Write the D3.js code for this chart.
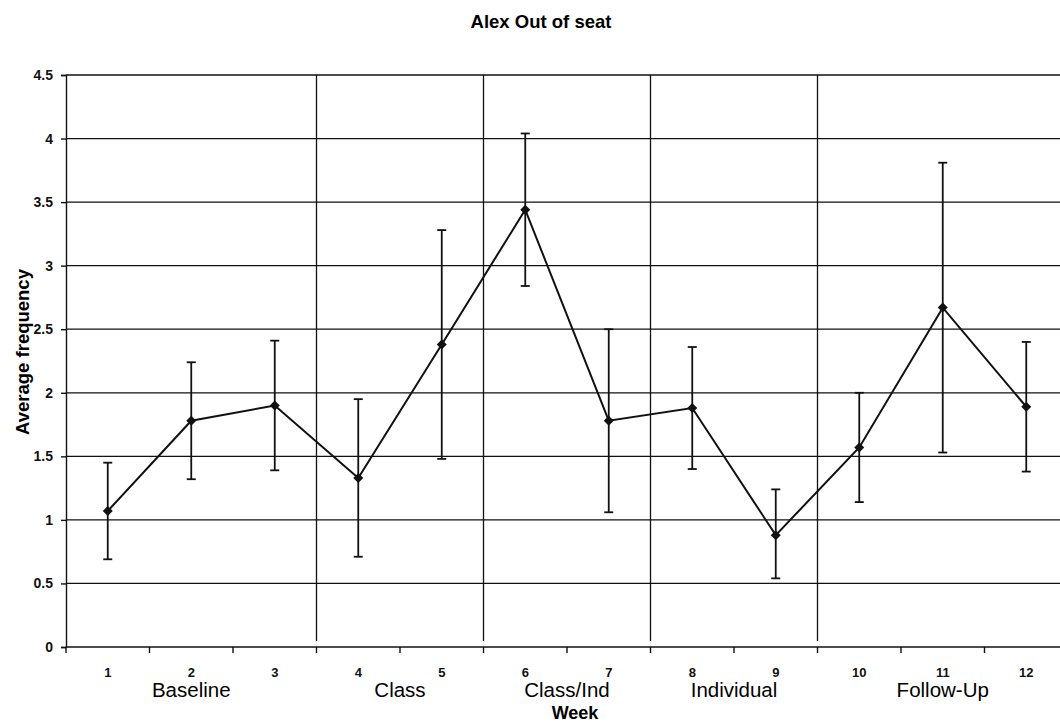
<!DOCTYPE html>
<html lang="en">
<head>
<meta charset="utf-8">
<title>Alex Out of seat</title>
<script src="https://cdn.jsdelivr.net/npm/d3@7"></script>
<style>
  body { margin: 0; background: #fff; }
  svg { display: block; font-family: "Liberation Sans", Arial, sans-serif; }
  .grid line { stroke: #111; stroke-width: 1.3; }
  .axis path, .axis line { stroke: #111; stroke-width: 1.4; }
  .axis text { fill: #111; font-weight: bold; }
</style>
</head>
<body>
<svg width="1060" height="725"></svg>
<script>
// data
var weeks = [1, 2, 3, 4, 5, 6, 7, 8, 9, 10, 11, 12];
var means = [1.07, 1.78, 1.90, 1.33, 2.38, 3.44, 1.78, 1.88, 0.88, 1.57, 2.67, 1.89];
var lower = [0.69, 1.32, 1.39, 0.71, 1.48, 2.84, 1.06, 1.40, 0.54, 1.14, 1.53, 1.38];
var upper = [1.45, 2.24, 2.41, 1.95, 3.28, 4.04, 2.50, 2.36, 1.24, 2.00, 3.81, 2.40];
var phases = ["Baseline", "Class", "Class/Ind", "Individual", "Follow-Up"];
var phaseFirst = [1, 4, 6, 8, 10];
var phaseLast = [3, 5, 7, 9, 12];
var yTicks = [0, 0.5, 1, 1.5, 2, 2.5, 3, 3.5, 4, 4.5];

var svg = d3.select("svg");
var plotLeft = 66, plotTop = 75, plotRight = 1068, plotBottom = 647;

var x = d3.scaleBand().domain(weeks).range([plotLeft, plotRight]).padding(0);
var y = d3.scaleLinear().domain([0, 4.5]).range([plotBottom, plotTop]);
var cx = function(w) { return x(w) + x.bandwidth() / 2; };

// title
svg.append("text")
   .attr("x", 541).attr("y", 28)
   .attr("text-anchor", "middle")
   .attr("font-size", "18.5px").attr("font-weight", "bold")
   .text("Alex Out of seat");

// horizontal gridlines
svg.append("g").attr("class", "grid")
   .selectAll("line").data(yTicks.slice(1)).enter().append("line")
   .attr("x1", plotLeft).attr("x2", plotRight)
   .attr("y1", function(d) { return y(d); })
   .attr("y2", function(d) { return y(d); });

// phase change lines
svg.append("g").attr("class", "grid")
   .selectAll("line").data(phaseLast.slice(0, -1)).enter().append("line")
   .attr("x1", function(d) { return x(d) + x.bandwidth(); })
   .attr("x2", function(d) { return x(d) + x.bandwidth(); })
   .attr("y1", y(4.5)).attr("y2", plotBottom - 6)
   .attr("stroke-width", 1.7);

// y axis
var yAxis = svg.append("g").attr("class", "axis")
   .attr("transform", "translate(" + plotLeft + ",0)")
   .call(d3.axisLeft(y).tickValues(yTicks).tickSize(5).tickPadding(8).tickFormat(d3.format("")));
yAxis.selectAll("text").attr("font-size", "14px");

// x axis: ticks at category boundaries, labels at centres
var xAxis = svg.append("g").attr("class", "axis")
   .attr("transform", "translate(0," + plotBottom + ")");
xAxis.append("line")
   .attr("x1", plotLeft).attr("x2", plotRight).attr("y1", 0).attr("y2", 0);
xAxis.selectAll(".tk").data(weeks).enter().append("line")
   .attr("class", "tk")
   .attr("x1", function(d) { return x(d); }).attr("x2", function(d) { return x(d); })
   .attr("y1", 0).attr("y2", 6);
xAxis.selectAll(".lb").data(weeks).enter().append("text")
   .attr("class", "lb")
   .attr("x", function(d) { return cx(d); })
   .attr("y", 30)
   .attr("text-anchor", "middle")
   .attr("font-size", "13px")
   .text(function(d) { return d; });

// phase names
svg.selectAll(".phase").data(phases).enter().append("text")
   .attr("class", "phase")
   .attr("x", function(d, i) { return (cx(phaseFirst[i]) + cx(phaseLast[i])) / 2; })
   .attr("y", 697)
   .attr("text-anchor", "middle")
   .attr("font-size", "20.5px")
   .text(function(d) { return d; });

// axis titles
svg.append("text")
   .attr("x", 575).attr("y", 719)
   .attr("text-anchor", "middle")
   .attr("font-size", "18px").attr("font-weight", "bold")
   .text("Week");

svg.append("text")
   .attr("transform", "translate(29,352) rotate(-90)")
   .attr("text-anchor", "middle")
   .attr("font-size", "18.5px").attr("font-weight", "bold")
   .text("Average frequency");

// error bars
var eb = svg.append("g").attr("stroke", "#111").attr("stroke-width", 1.8);
eb.selectAll(".stem").data(weeks).enter().append("line")
   .attr("x1", function(d) { return cx(d); }).attr("x2", function(d) { return cx(d); })
   .attr("y1", function(d, i) { return y(lower[i]); })
   .attr("y2", function(d, i) { return y(upper[i]); });
[lower, upper].forEach(function(arr) {
  eb.append("g").selectAll("line").data(weeks).enter().append("line")
     .attr("x1", function(d) { return cx(d) - 4.5; }).attr("x2", function(d) { return cx(d) + 4.5; })
     .attr("y1", function(d, i) { return y(arr[i]); })
     .attr("y2", function(d, i) { return y(arr[i]); });
});

// mean line
var line = d3.line()
   .x(function(d) { return cx(d); })
   .y(function(d, i) { return y(means[i]); });
svg.append("path")
   .datum(weeks)
   .attr("fill", "none").attr("stroke", "#111").attr("stroke-width", 2)
   .attr("d", line);

// diamond markers
svg.selectAll(".pt").data(weeks).enter().append("path")
   .attr("class", "pt")
   .attr("d", d3.symbol().type(d3.symbolDiamond2).size(64))
   .attr("fill", "#111")
   .attr("transform", function(d, i) { return "translate(" + cx(d) + "," + y(means[i]) + ")"; });
</script>
</body>
</html>
